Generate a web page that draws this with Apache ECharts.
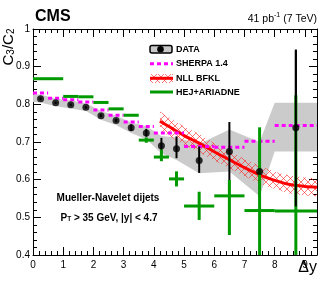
<!DOCTYPE html>
<html><head><meta charset="utf-8">
<script src="https://cdn.jsdelivr.net/npm/echarts@6/dist/echarts.min.js"></script>
<style>html,body{margin:0;padding:0;background:#fff}#c{width:324px;height:284px}</style>
</head><body><div id="c"></div>
<script>
// ---- data ----
const xTickLabels = ['0','1','2','3','4','5','6','7','8','9'];
const yTickLabels = ['0.4','0.5','0.6','0.7','0.8','0.9','1'];

const dataX  = [0.25,0.75,1.25,1.75,2.25,2.75,3.25,3.75,4.25,4.75,5.5,6.5,7.5,8.7];
const dataY  = [0.815,0.804,0.799,0.792,0.770,0.757,0.738,0.724,0.690,0.682,0.651,0.675,0.622,0.738];
const dataLo = [0.812,0.801,0.796,0.789,0.766,0.753,0.729,0.714,0.671,0.657,0.618,0.598,0.552,0.529];
const dataHi = [0.818,0.807,0.802,0.795,0.774,0.761,0.747,0.735,0.711,0.715,0.688,0.753,0.692,0.945];

const sysX  = [0,0.25,0.75,1.25,1.75,2.25,2.75,3.25,3.75,4.25,4.75,5.5,6.5,7.5,8.0,8.7,9.4];
const sysLo = [0.806,0.805,0.795,0.789,0.782,0.759,0.745,0.724,0.707,0.670,0.652,0.617,0.622,0.556,0.675,0.675,0.675];
const sysHi = [0.826,0.826,0.815,0.810,0.803,0.782,0.770,0.752,0.742,0.716,0.712,0.695,0.733,0.700,0.804,0.804,0.804];

const sherpaFrom = [0,0.5,1,1.5,2,2.5,3,3.5,4,5,6,7,8];
const sherpaTo   = [0.5,1,1.5,2,2.5,3,3.5,4,5,6,7,8,9.4];
const sherpaY    = [0.830,0.816,0.812,0.806,0.785,0.771,0.753,0.741,0.724,0.688,0.686,0.702,0.744];

const hejFrom = [0,1,1.5,2,2.5,3,3.5,4,4.5,5,6,7,8];
const hejTo   = [1,1.5,2,2.5,3,3.5,4,4.5,5,6,7,8,9.4];
const hejX    = [0.5,1.25,1.75,2.25,2.75,3.25,3.75,4.25,4.75,5.5,6.5,7.5,8.7];
const hejY    = [0.868,0.821,0.820,0.805,0.788,0.771,0.705,0.660,0.602,0.530,0.557,0.518,0.517];
const hejLo   = [0.866,0.819,0.818,0.803,0.786,0.769,0.698,0.649,0.582,0.493,0.453,0.300,0.300];
const hejHi   = [0.870,0.823,0.822,0.807,0.790,0.773,0.712,0.680,0.622,0.568,0.599,0.739,0.824];

const bfklX  = [4.2,4.5,5.0,5.5,6.0,6.5,7.0,7.5,8.0,8.5,9.0,9.4];
const bfklY  = [0.755,0.741,0.717,0.697,0.674,0.653,0.632,0.613,0.598,0.587,0.582,0.580];
const bfklLo = [0.729,0.716,0.693,0.673,0.651,0.630,0.609,0.590,0.575,0.563,0.558,0.556];
const bfklHi = [0.781,0.766,0.741,0.721,0.697,0.676,0.655,0.636,0.621,0.611,0.606,0.604];

// ---- helpers ----
function hatchCanvas(){
  const c=document.createElement('canvas'); c.width=7; c.height=7;
  const g=c.getContext('2d');
  g.strokeStyle='rgba(255,30,30,0.75)'; g.lineWidth=0.8;
  g.beginPath(); g.moveTo(0,0); g.lineTo(7,7); g.moveTo(7,0); g.lineTo(0,7); g.stroke();
  return c;
}
const hatch = {image: hatchCanvas(), repeat:'repeat'};
const FONT = '"Liberation Sans", Arial, sans-serif';
const GREEN = '#009a00', MAG = '#ff00ff', RED = '#ff0000';

function bandSeries(xs, lo, hi, fill, z){
  return {type:'custom', z:z, clip:true, silent:true, data:[[xs[0],lo[0]]],
    renderItem:function(p,api){
      const pts=[];
      for(let i=0;i<xs.length;i++) pts.push(api.coord([xs[i],hi[i]]));
      for(let i=xs.length-1;i>=0;i--) pts.push(api.coord([xs[i],lo[i]]));
      return {type:'polygon', shape:{points:pts}, style:{fill:fill, stroke:null}};
    }};
}

const axisCommon = {
  axisLine:{onZero:false, lineStyle:{color:'#000', width:1}},
  axisTick:{inside:true, length:8, lineStyle:{color:'#000', width:1}},
  minorTick:{show:true, splitNumber:5, length:4, lineStyle:{color:'#000', width:1}},
  splitLine:{show:false}
};
function xAx(pos, lab){
  return Object.assign({type:'value', min:0, max:9.4, interval:1, position:pos,
    axisLabel:{show:lab, fontSize:10, color:'#000', fontFamily:FONT, margin:5, showMaxLabel:false,
      formatter:function(v){const i=Math.round(v); return (Math.abs(v-i)<1e-6 && i<xTickLabels.length)?xTickLabels[i]:'';}}
  }, axisCommon);
}
function yAx(pos, lab){
  return Object.assign({type:'value', min:0.4, max:1.0, interval:0.1, position:pos,
    axisLabel:{show:lab, fontSize:10, color:'#000', fontFamily:FONT, margin:3,
      formatter:function(v){const i=Math.round((v-0.4)/0.1); return yTickLabels[i]||'';}}
  }, axisCommon);
}

const chart = echarts.init(document.getElementById('c'), null, {renderer:'canvas'});
const option = {
  animation:false,
  backgroundColor:'#fff',
  grid:{left:33, right:7, top:29, bottom:29, containLabel:false},
  xAxis:[xAx('bottom',true), xAx('top',false)],
  yAxis:[yAx('left',true), yAx('right',false)],
  series:[
    bandSeries(sysX, sysLo, sysHi, '#cbcbcb', 1),
    bandSeries(bfklX, bfklLo, bfklHi, hatch, 2),
    {type:'line', z:3, data:bfklX.map((x,i)=>[x,bfklY[i]]), smooth:0.3, showSymbol:false, symbol:'none',
      lineStyle:{color:RED, width:3}, silent:true},
    {type:'custom', z:4, clip:true, silent:true,
      data:sherpaY.map((y,i)=>[sherpaFrom[i],sherpaTo[i],y]),
      renderItem:function(p,api){
        const a=api.coord([api.value(0),api.value(2)]), b=api.coord([api.value(1),api.value(2)]);
        return {type:'line', shape:{x1:a[0],y1:a[1],x2:b[0],y2:b[1]},
          style:{stroke:MAG, lineWidth:3, lineDash:[4,3]}};
      }},
    {type:'custom', z:5, clip:true, silent:true,
      data:dataX.map((x,i)=>[x,dataLo[i],dataHi[i]]),
      renderItem:function(p,api){
        const a=api.coord([api.value(0),api.value(1)]), b=api.coord([api.value(0),api.value(2)]);
        return {type:'line', shape:{x1:a[0],y1:a[1],x2:b[0],y2:b[1]}, style:{stroke:'#000', lineWidth:2}};
      }},
    {type:'custom', z:6, clip:true, silent:true,
      data:hejY.map((y,i)=>[hejX[i],y,hejFrom[i],hejTo[i],hejLo[i],hejHi[i]]),
      renderItem:function(p,api){
        const l=api.coord([api.value(2),api.value(1)]), r=api.coord([api.value(3),api.value(1)]);
        const lo=api.coord([api.value(0),api.value(4)]), hi=api.coord([api.value(0),api.value(5)]);
        return {type:'group', children:[
          {type:'line', shape:{x1:l[0],y1:l[1],x2:r[0],y2:r[1]}, style:{stroke:GREEN, lineWidth:3}},
          {type:'line', shape:{x1:lo[0],y1:lo[1],x2:hi[0],y2:hi[1]}, style:{stroke:GREEN, lineWidth:3}}
        ]};
      }},
    {type:'custom', z:7, clip:true, silent:true,
      data:dataX.map((x,i)=>[x,dataLo[i],dataHi[i]]).filter(d=>d[0]>8),
      renderItem:function(p,api){
        const a=api.coord([api.value(0),api.value(1)]), b=api.coord([api.value(0),api.value(2)]);
        return {type:'line', shape:{x1:a[0],y1:a[1],x2:b[0],y2:b[1]}, style:{stroke:'#000', lineWidth:2}};
      }},
    {type:'scatter', z:8, data:dataX.map((x,i)=>[x,dataY[i]]), symbol:'circle', symbolSize:7,
      itemStyle:{color:'#000'}, silent:true}
  ],
  graphic:[
    {type:'text', left:35, top:9, style:{text:'CMS', font:'bold 16px '+FONT, fill:'#000'}},
    {type:'text', right:7, top:12, style:{text:'{n|41 pb}{s|-1}{n| (7 TeV)}', fill:'#000',
      rich:{n:{fontSize:10.5, fontFamily:FONT, verticalAlign:'bottom', lineHeight:13},
            s:{fontSize:7, fontFamily:FONT, verticalAlign:'top', lineHeight:8}}}},
    {type:'text', x:9, y:47, rotation:Math.PI/2, style:{text:'{m|C}{s|3}{m|/C}{s|2}', align:'center', verticalAlign:'middle', fill:'#000',
      rich:{m:{fontSize:15, fontFamily:FONT, lineHeight:15, verticalAlign:'top'},
            s:{fontSize:10, fontFamily:FONT, lineHeight:10, padding:[8,0,0,0], verticalAlign:'bottom'}}}},
    {type:'text', right:7, top:260, style:{text:'Δy', font:'16px '+FONT, fill:'#000'}},
    {type:'text', x:108, y:198, style:{text:'Mueller-Navelet dijets', font:'bold 10px '+FONT, fill:'#000', align:'center', verticalAlign:'middle'}},
    {type:'text', x:109, y:218, style:{text:'{b|P}{t|T}{b| > 35 GeV, |y| < 4.7}', align:'center', verticalAlign:'middle', fill:'#000',
      rich:{b:{fontSize:10, fontWeight:'bold', fontFamily:FONT, lineHeight:10, verticalAlign:'top'},
            t:{fontSize:6.5, fontWeight:'bold', fontFamily:FONT, lineHeight:7, padding:[6,0,0,0], verticalAlign:'bottom'}}}},
    // legend
    {type:'rect', shape:{x:150,y:45.5,width:22,height:7.5,r:2}, style:{fill:'#c8c8c8', stroke:'#000', lineWidth:1.5}},
    {type:'circle', shape:{cx:160.5,cy:49.3,r:3.3}, style:{fill:'#000'}},
    {type:'text', x:176, y:49.5, style:{text:'DATA', font:'bold 9px '+FONT, fill:'#000', verticalAlign:'middle'}},
    {type:'line', shape:{x1:150,y1:63.7,x2:173,y2:63.7}, style:{stroke:MAG, lineWidth:3, lineDash:[4,3]}},
    {type:'text', x:176, y:63.8, style:{text:'SHERPA 1.4', font:'bold 9px '+FONT, fill:'#000', verticalAlign:'middle'}},
    {type:'rect', shape:{x:150,y:74,width:23,height:9}, style:{fill:hatch, stroke:null}},
    {type:'line', shape:{x1:150,y1:78.3,x2:173,y2:78.3}, style:{stroke:RED, lineWidth:3}},
    {type:'text', x:176, y:78.3, style:{text:'NLL BFKL', font:'bold 9px '+FONT, fill:'#000', verticalAlign:'middle'}},
    {type:'line', shape:{x1:150,y1:92,x2:173,y2:92}, style:{stroke:GREEN, lineWidth:3}},
    {type:'text', x:176, y:92.2, style:{text:'HEJ+ARIADNE', font:'bold 9px '+FONT, fill:'#000', verticalAlign:'middle'}}
  ]
};
chart.setOption(option);
</script>
</body></html>
